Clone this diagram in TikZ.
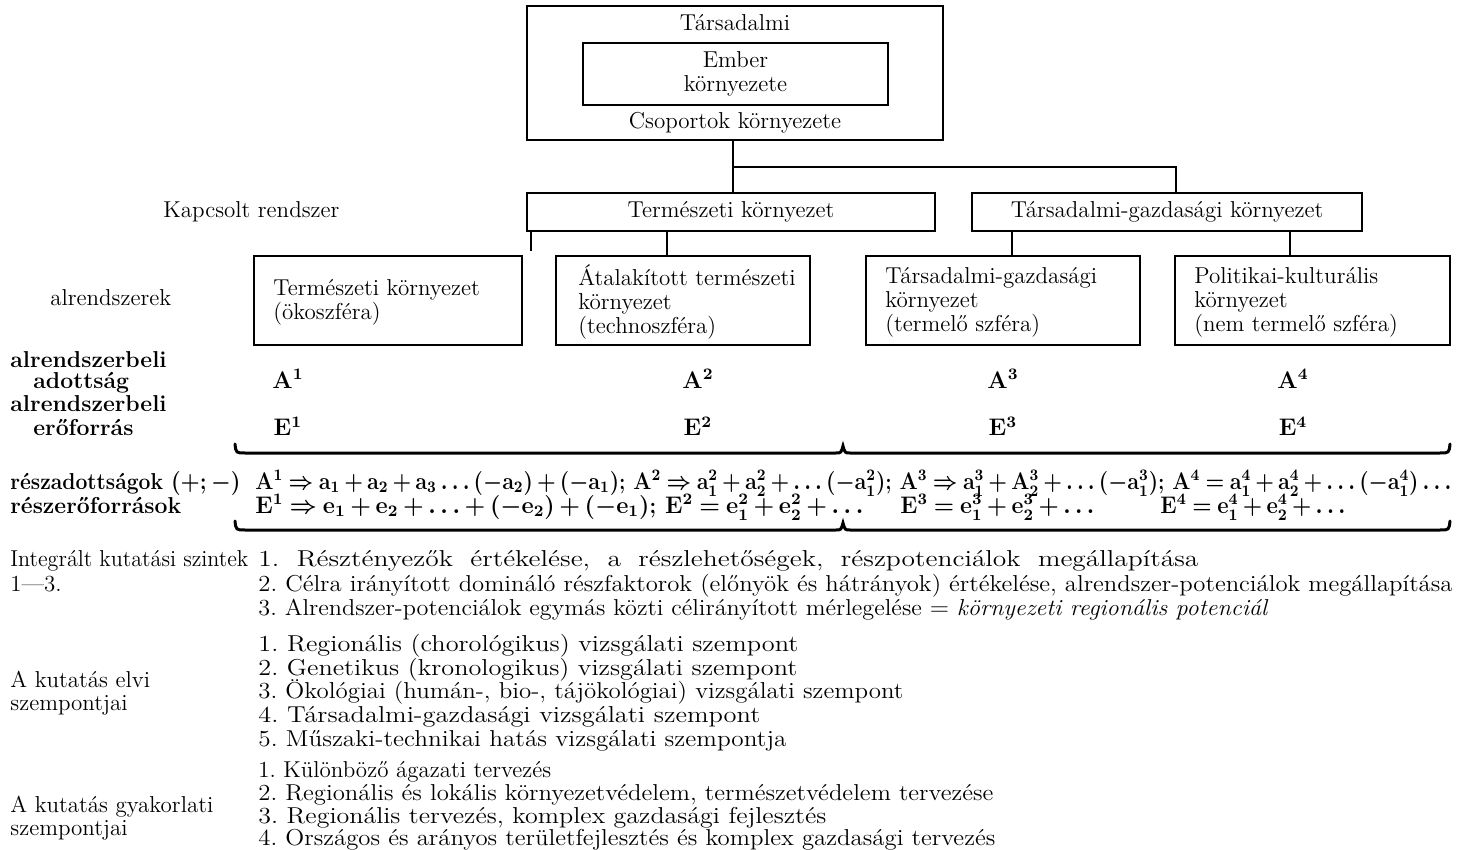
\documentclass[tikz,border=0pt]{standalone}
\usepackage{amsmath,amssymb}
\usepackage{graphicx}
\usepackage{fontspec}
\frenchspacing
\newcommand{\fsz}{\fontsize{11.5}{12}\selectfont}
\newcommand{\fitw}[2]{\resizebox{#1}{\height}{#2}}
\newcommand{\tightmath}{\medmuskip=3mu plus 1mu\thickmuskip=4mu plus 1mu}
\begin{document}
\begin{tikzpicture}[x=0.5pt,y=-0.5pt,
  every node/.style={font=\fsz, inner sep=0pt},
  box/.style={draw, line width=1pt},
  conn/.style={line width=1pt},
  brace/.style={line width=1.5pt, line cap=round},
  lbl/.style={anchor=base west},
  ctr/.style={anchor=base},
  bld/.style={font=\fsz\bfseries\boldmath\tightmath}]
\useasboundingbox (0,0) rectangle (1468,850);

% top boxes
\node[box, minimum width=208pt, minimum height=67pt] (soc) at (735,73) {};
\node[ctr] (tars) at (735,31) {Társadalmi};
\node[box, minimum width=152.5pt, minimum height=31pt, align=center] (emb) at (735.5,74) {Ember\\környezete};
\node[ctr] (csop) at (735,129) {Csoportok környezete};

\node[lbl] (kap) at (163,218) {Kapcsolt rendszer};
\node[box, minimum width=204pt, minimum height=19pt] (tk) at (731,212) {Természeti környezet};
\node[box, minimum width=195pt, minimum height=19pt] (tg) at (1167,212) {Társadalmi-gazdasági környezet};

\node[lbl] (alr) at (50,306) {alrendszerek};
\node[box, minimum width=134pt, minimum height=44.5pt] (s1) at (388,300.5) {};
\node[box, minimum width=127pt, minimum height=44.5pt] (s2) at (683,300.5) {};
\node[box, minimum width=137pt, minimum height=44.5pt] (s3) at (1003,300.5) {};
\node[box, minimum width=137.5pt, minimum height=44.5pt] (s4) at (1312.5,300.5) {};
\node[anchor=west, align=left] (s1t) at (273,302) {Természeti környezet\\(ökoszféra)};
\node[anchor=west, align=left] (s2t) at (578,302) {Átalakított természeti\\környezet\\(technoszféra)};
\node[anchor=west, align=left] (s3t) at (885,302) {Társadalmi-gazdasági\\környezet\\(termelő szféra)};
\node[anchor=west, align=left] (s4t) at (1194,302) {Politikai-kulturális\\környezet\\(nem termelő szféra)};

% connectors
\coordinate (c1) at (733,167);
\coordinate (x1176) at (1176,0);
\coordinate (x667) at (667,0);
\coordinate (x1012) at (1012,0);
\coordinate (x1290) at (1290,0);
\coordinate (free) at (531,251);
\draw[conn] (soc.south -| c1) -- (tk.north -| c1);
\draw[conn] (c1) -| (tg.north -| x1176);
\draw[conn] (tk.south -| free) -- (free);
\draw[conn] (tk.south -| x667) -- (s2.north -| x667);
\draw[conn] (tg.south -| x1012) -- (s3.north -| x1012);
\draw[conn] (tg.south -| x1290) -- (s4.north -| x1290);

% A / E rows
\node[lbl,bld] (l1) at (10,368) {alrendszerbeli};
\node[lbl,bld] (l2) at (33,388) {adottság};
\node[lbl,bld] (l3) at (10,411) {alrendszerbeli};
\node[lbl,bld] (l4) at (33,436) {erőforrás};
\node[ctr,bld] (a1) at (288,388) {$\mathbf{A}^1$};
\node[ctr,bld] (a2) at (698,388) {$\mathbf{A}^2$};
\node[ctr,bld] (a3) at (1003,388) {$\mathbf{A}^3$};
\node[ctr,bld] (a4) at (1293,388) {$\mathbf{A}^4$};
\node[ctr,bld] (e1) at (288,436) {$\mathbf{E}^1$};
\node[ctr,bld] (e2) at (698,436) {$\mathbf{E}^2$};
\node[ctr,bld] (e3) at (1003,436) {$\mathbf{E}^3$};
\node[ctr,bld] (e4) at (1293,436) {$\mathbf{E}^4$};

% braces
\draw[brace] (235,444) .. controls (236,453) .. (245,453) -- (836,453) .. controls (841,453) .. (843,446) .. controls (845,453) .. (850,453) -- (1440,453) .. controls (1449,453) .. (1450,444);
\draw[brace] (235,521) .. controls (236,530) .. (245,530) -- (836,530) .. controls (841,530) .. (843,523) .. controls (845,530) .. (850,530) -- (1440,530) .. controls (1449,530) .. (1450,521);

% formula rows
\node[lbl,bld] (r1) at (10,489) {\fitw{115pt}{részadottságok $(+;-)$}};
\node[lbl,bld] (r2) at (10,513) {részerőforrások};
\node[lbl,bld] (f1) at (255,489) {\fitw{598pt}{$\mathbf{A}^1\Rightarrow\mathbf{a}_1+\mathbf{a}_2+\mathbf{a}_3\ldots(-\mathbf{a}_2)+(-\mathbf{a}_1)$; $\mathbf{A}^2\Rightarrow\mathbf{a}_1^2+\mathbf{a}_2^2+\ldots(-\mathbf{a}_1^2)$; $\mathbf{A}^3\Rightarrow\mathbf{a}_1^3+\mathbf{A}_2^3+\ldots(-\mathbf{a}_1^3)$; $\mathbf{A}^4=\mathbf{a}_1^4+\mathbf{a}_2^4+\ldots(-\mathbf{a}_1^4)\ldots$}};
\node[lbl,bld] (f2) at (255,513) {\fitw{304pt}{$\mathbf{E}^1\Rightarrow\mathbf{e}_1+\mathbf{e}_2+\ldots+(-\mathbf{e}_2)+(-\mathbf{e}_1)$; $\mathbf{E}^2=\mathbf{e}_1^2+\mathbf{e}_2^2+\ldots$}};
\node[lbl,bld] (f3) at (900,513) {\fitw{97pt}{$\mathbf{E}^3=\mathbf{e}_1^3+\mathbf{e}_2^3+\ldots$}};
\node[lbl,bld] (f4) at (1160,513) {\fitw{92.5pt}{$\mathbf{E}^4=\mathbf{e}_1^4+\mathbf{e}_2^4+\ldots$}};

% bottom text
\node[lbl] (g1a) at (10,567) {\fitw{119pt}{Integrált kutatási szintek}};
\node[lbl] (g1b) at (10,591) {1—3.};
\node[lbl] (i11) at (258,567) {\fitw{470pt}{\makebox[393pt][s]{1. Résztényezők értékelése, a részlehetőségek, részpotenciálok megállapítása}}};
\node[lbl] (i12) at (258,591) {\fitw{597pt}{2. Célra irányított domináló részfaktorok (előnyök és hátrányok) értékelése, alrendszer-potenciálok megállapítása}};
\node[lbl] (i13) at (258,615) {\fitw{505pt}{3. Alrendszer-potenciálok egymás közti célirányított mérlegelése $=$ \textit{környezeti regionális potenciál}}};

\node[lbl] (g2a) at (10,687) {A kutatás elvi};
\node[lbl] (g2b) at (10,710) {szempontjai};
\node[lbl] (i21) at (258,651) {\fitw{270pt}{1. Regionális (chorológikus) vizsgálati szempont}};
\node[lbl] (i22) at (258,675) {\fitw{269.5pt}{2. Genetikus (kronologikus) vizsgálati szempont}};
\node[lbl] (i23) at (258,698) {\fitw{322.5pt}{3. Ökológiai (humán-, bio-, tájökológiai) vizsgálati szempont}};
\node[lbl] (i24) at (258,722) {\fitw{251pt}{4. Társadalmi-gazdasági vizsgálati szempont}};
\node[lbl] (i25) at (258,746) {\fitw{264pt}{5. Műszaki-technikai hatás vizsgálati szempontja}};

\node[lbl] (g3a) at (10,812) {A kutatás gyakorlati};
\node[lbl] (g3b) at (10,835) {szempontjai};
\node[lbl] (i31) at (258,777) {1. Különböző ágazati tervezés};
\node[lbl] (i32) at (258,800) {\fitw{367.5pt}{2. Regionális és lokális környezetvédelem, természetvédelem tervezése}};
\node[lbl] (i33) at (258,823) {\fitw{284pt}{3. Regionális tervezés, komplex gazdasági fejlesztés}};
\node[lbl] (i34) at (258,845) {\fitw{368.5pt}{4. Országos és arányos területfejlesztés és komplex gazdasági tervezés}};
\end{tikzpicture}
\end{document}
